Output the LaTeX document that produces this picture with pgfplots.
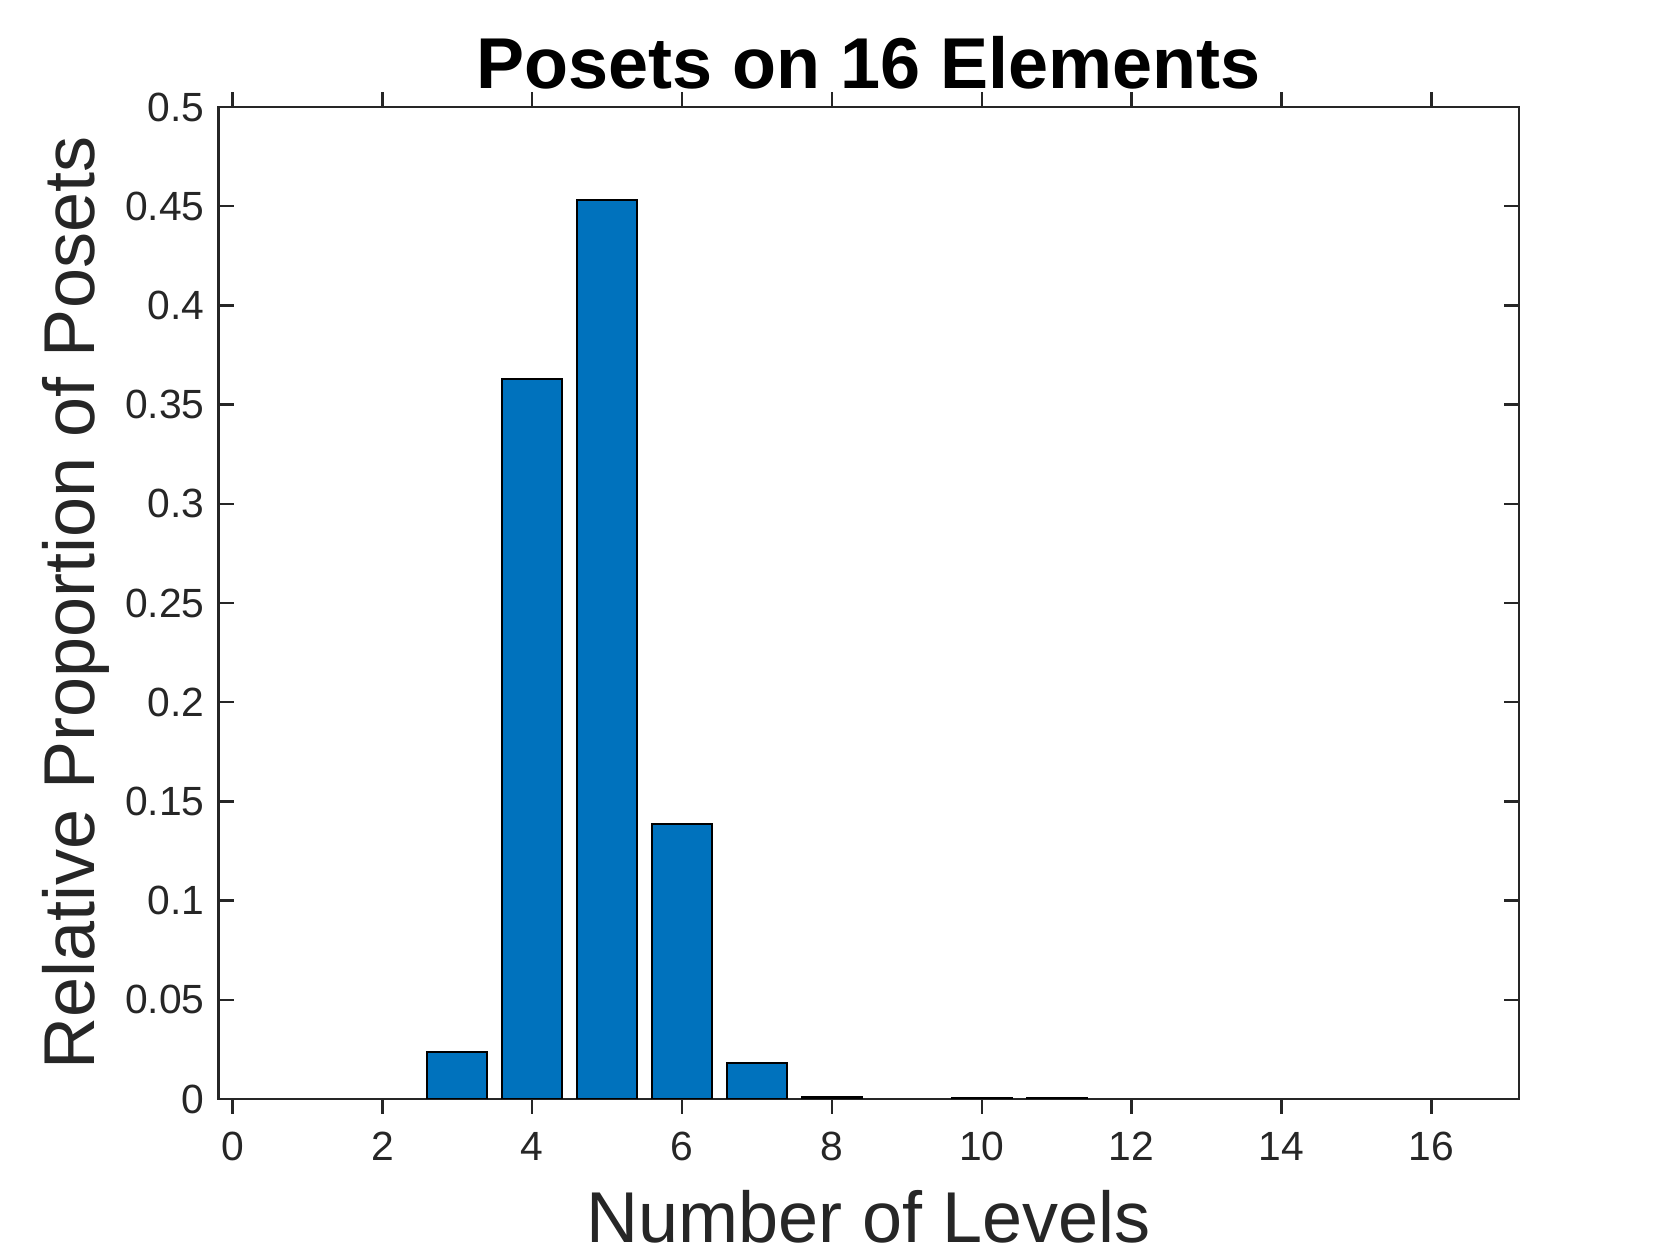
\documentclass[border=0pt]{standalone}
\usepackage{fontspec}
\setmainfont{Liberation Sans}
\usepackage{pgfplots}
\pgfplotsset{compat=1.18}
\definecolor{mbar}{RGB}{0,114,189}
\definecolor{axgray}{RGB}{38,38,38}
\begin{document}
\begin{tikzpicture}
\useasboundingbox (-54.65pt,-40.25pt) rectangle (365.35pt,274.75pt);
\begin{axis}[
  scale only axis,
  width=325.1pt, height=248pt,
  xmin=-0.186, xmax=17.17,
  ymin=0, ymax=0.5,
  xtick={0,2,...,16},
  ytick={0,0.05,0.1,0.15,0.2,0.25,0.3,0.35,0.4,0.45,0.5},
  yticklabels={0,0.05,0.1,0.15,0.2,0.25,0.3,0.35,0.4,0.45,0.5},
  /pgf/number format/assume math mode=true,
  tick align=inside,
  major tick length=3.75pt,
  axis line style={draw=axgray, line width=0.6pt},
  every tick/.style={draw=axgray, line width=0.6pt},
  tick label style={font=\fontsize{10.2}{12}\selectfont, text=axgray},
  xticklabel style={yshift=-1pt},
  yticklabel style={xshift=0pt},
  every axis title shift=0pt,
  title={\textbf{Posets on 16 Elements}},
  title style={font=\fontsize{18}{21}\selectfont, at={(axis description cs:0.5,1)}, anchor=base, yshift=4.6pt},
  xlabel={Number of Levels},
  xlabel style={font=\fontsize{18}{21}\selectfont, text=axgray, at={(axis description cs:0.5,0)}, anchor=base, yshift=-36pt},
  ylabel={Relative Proportion of Posets},
  ylabel style={font=\fontsize{18}{21}\selectfont, text=axgray, at={(axis description cs:0,0.5)}, anchor=base, yshift=30.9pt},
  ybar, bar width=0.8,
]
\addplot[fill=mbar, draw=black, line width=0.5pt] coordinates {
 (3,0.0235) (4,0.3628) (5,0.4529) (6,0.1386) (7,0.0183) (8,0.0012) (10,0.0004) (11,0.0004)
};
\end{axis}
\end{tikzpicture}
\end{document}
